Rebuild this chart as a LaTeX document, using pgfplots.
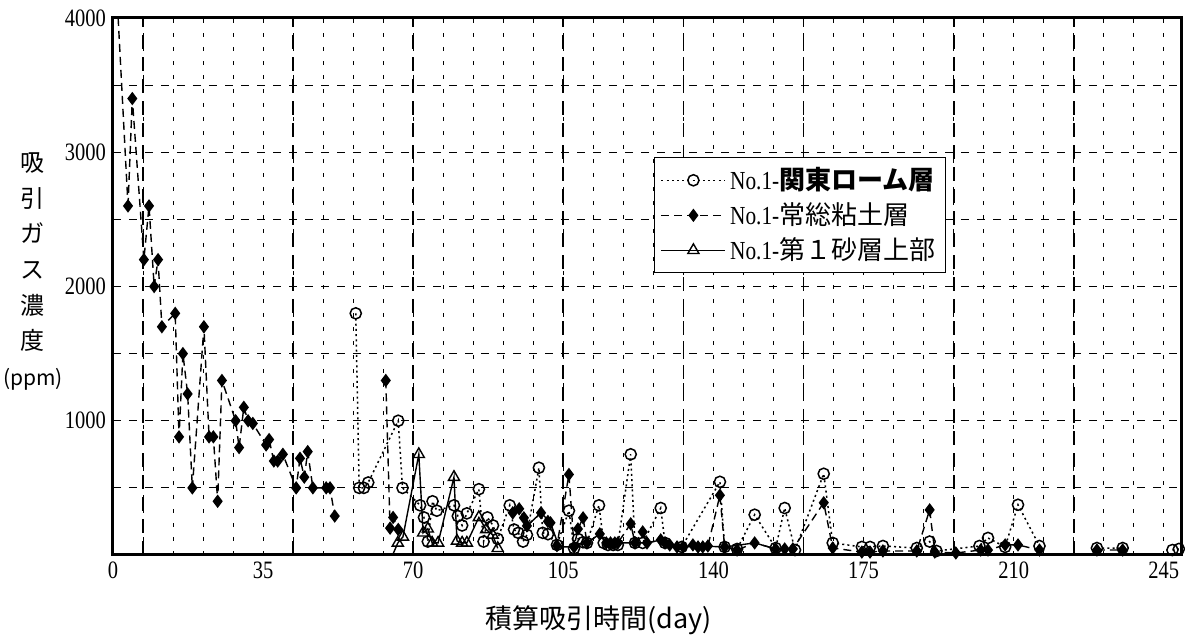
\documentclass[border=0pt]{standalone}
\usepackage{fontspec}
\setmainfont{Liberation Serif}
\newfontfamily\jp{Noto Sans CJK JP}
\newfontfamily\cond[FakeStretch=0.82]{Liberation Serif}
\usepackage{pgfplots}
\pgfplotsset{compat=1.18}
\begin{document}
\begin{tikzpicture}
\begin{axis}[
  scale only axis, width=534pt, height=268.5pt,
  xmin=0, xmax=249, ymin=0, ymax=4000,
  xtick={0,35,...,245}, ytick={1000,2000,3000,4000},
  minor xtick={7,14,...,245}, minor ytick={500,1500,2500,3500},
  major tick length=0pt, minor tick length=0pt,
  xmajorgrids=false, xminorgrids=true, ymajorgrids=true, yminorgrids=true,
  x grid style={black, line width=0.5pt, dash pattern=on 2pt off 5pt},
  y grid style={black, line width=0.6pt, dash pattern=on 4pt off 4pt},
  axis line style={line width=1.5pt},
  tick label style={font=\cond\fontsize{12.5}{13}\selectfont},
  /pgf/number format/assume math mode=true,
  /pgf/number format/set thousands separator={},
  unbounded coords=jump,
  legend cell align=left,
  legend image code/.code={\draw[mark repeat=2,mark phase=2,#1] plot coordinates {(0pt,0pt)(16pt,0pt)(32pt,0pt)};},
  legend style={at={(0.5066,0.741)}, anchor=north west, draw=black, line width=0.6pt, fill=white,
    font=\fontsize{13}{15}\selectfont, row sep=1pt, inner sep=3pt},
]
\coordinate (SW) at (rel axis cs:0,0);
\coordinate (NE) at (rel axis cs:1,1);
\coordinate (YL) at (rel axis cs:0,0.528);
\coordinate (XL) at (rel axis cs:0.455,0);
\pgfplotsinvokeforeach{7,42,70,105,133,161,196,224}{
  \draw[black, line width=0.9pt, dash pattern=on 7pt off 4pt] (axis cs:#1,0) -- (axis cs:#1,4000);
}
% series 1: No.1-関東ローム層
\addplot[black, line width=0.75pt, dash pattern=on 1pt off 1.6pt, mark=o, mark size=2.8pt, mark options={solid, fill=white}] coordinates {
(56.6,1800)(57.4,500)(58.5,500)(59.5,540)(66.5,1000)(67.5,500)(71.6,370)(72.5,280)(73.4,100)(74.5,400)(75.5,330)
(79.5,370)(80.4,290)(81.4,220)(82.5,310)(85.3,490)(86.4,100)(87.3,280)(88.6,220)(89.7,120)(92.5,370)(93.5,190)
(94.5,165)(95.6,100)(96.5,150)(99.3,650)(100.2,165)(101.4,155)(103.5,75)(106.3,330)(107.5,50)(108.4,120)(109.6,95)
(110.5,90)(113.3,370)(114.4,90)(115.4,75)(116.6,75)(117.7,75)(120.7,750)(121.7,90)(123.5,90)(127.7,350)(128.7,90)
(132.6,60)(141.5,545)(142.6,60)(145.5,45)(149.6,300)(154.5,52)(156.6,350)(159,37)(165.7,605)(167.8,90)(174.6,60)
(176.5,60)(179.5,67)(187.4,52)(190.4,100)(192,30)(202,67)(204,127)(208,60)(211,374)(216,67)(222,nan)(229.4,52)
(235.4,52)(240,nan)(247,37)(248.5,45)};
\addlegendentry{{\cond No.1-}{\jp\bfseries 関東ローム層}}
% series 2: No.1-常総粘土層
\addplot[black, line width=0.7pt, dash pattern=on 4pt off 2.5pt, mark=diamond*, mark size=2.8pt, mark options={solid, fill=black}] coordinates {
(3.5,2600)(4.5,3400)(7.2,2200)(8.4,2600)(9.6,2000)(10.5,2200)(11.4,1700)(14.5,1800)(15.4,880)(16.3,1500)(17.4,1200)
(18.5,500)(21.2,1700)(22.4,880)(23.4,880)(24.4,400)(25.4,1300)(28.6,1000)(29.4,800)(30.5,1100)(31.5,1000)(32.6,980)
(35.7,820)(36.4,860)(37.5,700)(38.4,700)(39.6,750)(42.7,500)(43.6,720)(44.6,580)(45.4,770)(46.6,500)(49.7,500)
(50.6,500)(51.7,290)(57,nan)(63.6,1300)(64.6,200)(65.3,280)(66.5,190)(80,nan)(93.2,314)(94.7,344)(95.8,277)
(96.5,217)(99.8,314)(101.4,250)(102,240)(103.5,70)(106.3,600)(107.5,60)(108.4,194)(109.6,277)(110.5,90)(113.5,157)
(115,90)(116,90)(117,90)(117.7,90)(120.7,232)(121.7,90)(123.5,172)(124.5,90)(127.7,112)(128.7,90)(129.8,75)
(131.5,60)(132.9,60)(135.2,75)(136.4,60)(137.5,60)(138.7,67)(141.5,445)(142.6,60)(145.5,37)(149.6,90)(154.5,45)
(156.6,45)(158.5,45)(165.7,389)(167.8,52)(174.6,22)(176.5,22)(179.5,30)(187.4,30)(190.4,336)(191.6,22)(196.5,15)
(202.3,37)(204,37)(208,75)(211,75)(216,37)(222,nan)(229.4,37)(235.4,37)};
\addlegendentry{{\cond No.1-}{\jp 常総粘土層}}
% series 3: No.1-第1砂層上部
\addplot[black, line width=0.7pt, solid, mark=triangle, mark size=3.2pt, mark options={solid, fill=white}] coordinates {
(66.4,90)(67.6,135)(71.3,750)(72.3,165)(73.4,195)(74.4,90)(75.8,90)(79.5,580)(80.2,105)(81.4,90)(82.5,90)
(85.3,280)(87,190)(88.5,150)(89.7,50)};
\addlegendentry{{\cond No.1-}{\jp 第１砂層上部}}
% line segments without markers
\addplot[forget plot, black, line width=0.7pt, dash pattern=on 4pt off 2.5pt] coordinates {(1.2,4000)(3.5,2600)};
\addplot[forget plot, black, line width=0.7pt, solid] coordinates {(65.2,0)(66.4,90)};
\addplot[forget plot, black, line width=0.7pt, solid] coordinates {
(96.5,217)(99.8,314)(102,240)(104,60)(107.5,60)(110.5,90)(113.5,157)(115,90)(117.7,90)(121.7,90)(124.5,90)
(127.7,112)(129.8,75)(132.9,60)(138.7,65)(142.6,60)(149.6,90)(154.5,45)};
\end{axis}
\node[font=\jp\fontsize{12}{17.8}\selectfont, align=center, xshift=-40pt] at (YL)
  {吸\\引\\ガ\\ス\\濃\\度\\{\fontsize{10.5}{17.8}\selectfont(ppm)}};
\node[font=\jp\fontsize{13.5}{15}\selectfont, yshift=-32.5pt] at (XL) {積算吸引時間(day)};
\pgfresetboundingbox
\path[use as bounding box] ([shift={(-56.5pt,-41pt)}]SW) rectangle ([shift={(2pt,9pt)}]NE);
\end{tikzpicture}
\end{document}
